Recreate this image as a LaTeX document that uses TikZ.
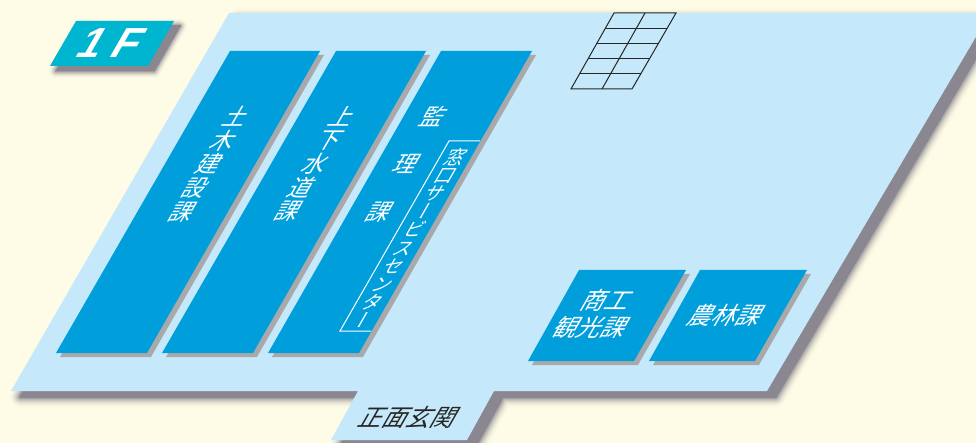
\documentclass[tikz,border=0pt]{standalone}
\usepackage{fontspec}
\setmainfont{Liberation Sans}
\newfontfamily\jp{Noto Sans CJK JP}
\newfontfamily\jpv[RawFeature=+vert]{Noto Sans CJK JP}
\definecolor{paper}{HTML}{FEFBE6}
\definecolor{floorblue}{HTML}{C5E9FA}
\definecolor{roomblue}{HTML}{009FDC}
\definecolor{roomshade}{HTML}{A9A9AB}
\definecolor{softshade}{HTML}{8A8790}
\definecolor{tagteal}{HTML}{00B5CF}
\usetikzlibrary{calc}
\newcommand{\softshadow}[4]{%
  \foreach \w in {#4,...,0}{
    \pgfmathsetmacro{\p}{100*(1-\w/#4)*(1-\w/#4)}
    \path[fill=softshade!\p!paper,draw=softshade!\p!paper,line width=\w*1pt,line join=round,shift={(#1,#2)}] #3;
  }
}
\newcommand{\roombox}[4]{%
  \fill[roomshade] ($(#1)+(4,4)$) -- ($(#2)+(4,4)$) -- ($(#3)+(4,4)$) -- ($(#4)+(4,4)$) -- cycle;
  \fill[roomblue] (#1) -- (#2) -- (#3) -- (#4) -- cycle;
}
\tikzset{
  slanttext/.style={inner sep=0pt,outer sep=0pt,align=center,xslant=0.576,transform shape},
  white label/.style={slanttext,text=white},
}
\begin{document}
\begin{tikzpicture}[x=1pt,y=-1pt]
\useasboundingbox (0,0) rectangle (976,443);
\clip (0,0) rectangle (976,443);
\fill[paper] (0,0) rectangle (976,443);

% soft shadows
\softshadow{9}{6}{(229,13) -- (990,13) -- (767,391) -- (494,391) -- (467,440) -- (331,440) -- (358,391) -- (11,391) -- cycle}{22}
\softshadow{6}{5}{(76,21) -- (174,21) -- (148,66) -- (50,66) -- cycle}{16}

% floor
\fill[floorblue] (229,13) -- (990,13) -- (767,391) -- (494,391) -- (467,440) -- (331,440) -- (358,391) -- (11,391) -- cycle;

% 1F tag
\fill[tagteal] (76,21) -- (174,21) -- (148,66) -- (50,66) -- cycle;
\node[white label,font=\bfseries\fontsize{42}{42}\selectfont] (tag) at (112,43) {1\hspace{11pt}F};

% rooms
\roombox{230,51}{320,51}{147,353}{56,353}
\roombox{336,51}{426,51}{253,353}{162,353}
\roombox{441,51}{532,51}{359,353}{268,353}
\roombox{579,270}{686,270}{634,361}{528,361}
\roombox{700,270}{807,270}{755,361}{649,361}

% service centre outline
\draw[white,line width=1pt] (480,141) -- (449,141) -- (340,331) -- (371,331);

% stairs / grid
\begin{scope}[line width=1pt,draw=black!85]
  \draw (614,13) -- (676,13) -- (632,89) -- (571,89) -- cycle;
  \draw (645,13) -- (602,89);
  \foreach \f in {0.2,0.4,0.6,0.8}{
    \draw ($(614,13)!\f!(571,89)$) -- ($(676,13)!\f!(632,89)$);
  }
\end{scope}

% labels
\node[white label,font=\jp\fontsize{23}{23.7}\selectfont] (doboku) at (210,164) {土\\木\\建\\設\\課};
\node[white label,font=\jp\fontsize{23}{23.7}\selectfont] (gesui) at (316,164) {上\\下\\水\\道\\課};
\node[white label,font=\jp\fontsize{23}{47.5}\selectfont] (kanri) at (407,164) {監\\理\\課};
\node[white label,font=\jpv\fontsize{19}{18.1}\selectfont] (madoguchi) at (410,238) {窓\\口\\サ\\ー\\ビ\\ス\\セ\\ン\\タ\\ー};
\node[white label,font=\jp\fontsize{24}{27}\selectfont] (shoko) at (600,314) {商工\\観光課};
\node[white label,font=\jp\fontsize{24}{24}\selectfont] (norin) at (727,315) {農林課};
\node[slanttext,text=black!85,font=\jp\fontsize{24}{24}\selectfont] (genkan) at (410,417) {正面玄関};
\end{tikzpicture}
\end{document}
